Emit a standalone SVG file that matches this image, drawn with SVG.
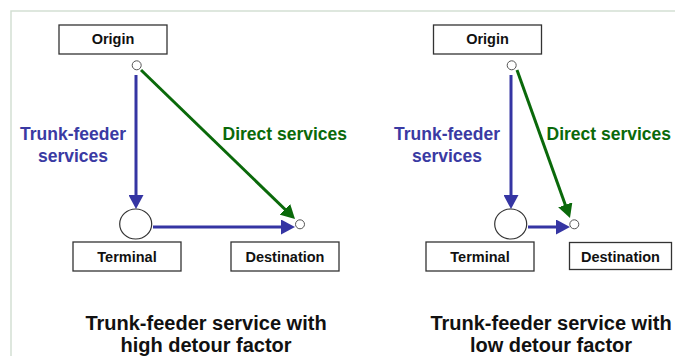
<svg xmlns="http://www.w3.org/2000/svg" width="675" height="356" viewBox="0 0 675 356">
<style>
.box{fill:#fff;stroke:#333;stroke-width:1.3}
.bt{font-family:"Liberation Sans",Arial,sans-serif;font-weight:bold;font-size:14.5px;fill:#111;text-anchor:middle}
.pt{fill:#fff;stroke:#555;stroke-width:1}
.term{fill:#fff;stroke:#333;stroke-width:1.2}
.blue{stroke:#3535a3;stroke-width:3;fill:none}
.green{stroke:#0a690a;stroke-width:3;fill:none}
.lb{font-family:"Liberation Sans",Arial,sans-serif;font-weight:bold;font-size:17.5px;fill:#3a3aa3;text-anchor:middle}
.lg{font-family:"Liberation Sans",Arial,sans-serif;font-weight:bold;font-size:17.5px;fill:#0a690a}
.title{font-family:"Liberation Sans",Arial,sans-serif;font-weight:bold;font-size:20px;fill:#111;text-anchor:middle}
</style>
<defs>
<marker id="ab" markerUnits="userSpaceOnUse" markerWidth="14" markerHeight="15" refX="9" refY="7.5" orient="auto" viewBox="0 0 14 15">
<path d="M0,0 L14,7.5 L0,15 z" fill="#3535a3"/>
</marker>
<marker id="ag" markerUnits="userSpaceOnUse" markerWidth="14" markerHeight="15" refX="9" refY="7.5" orient="auto" viewBox="0 0 14 15">
<path d="M0,0 L14,7.5 L0,15 z" fill="#0a690a"/>
</marker>
</defs>
<rect width="675" height="356" fill="#fff"/>
<path d="M11,356 L11,11 L675,11" fill="none" stroke="#d3e0d3" stroke-width="1.5"/>

<g id="connectors">
<line class="blue" x1="136" y1="75" x2="136" y2="204" marker-end="url(#ab)"/>
<line class="blue" x1="153" y1="227" x2="290" y2="227" marker-end="url(#ab)"/>
<line class="green" x1="141" y1="70" x2="291.4" y2="215.5" marker-end="url(#ag)"/>
<line class="blue" x1="511" y1="75" x2="511" y2="204" marker-end="url(#ab)"/>
<line class="blue" x1="528" y1="227" x2="565" y2="227" marker-end="url(#ab)"/>
<line class="green" x1="517" y1="70" x2="568.3" y2="213.3" marker-end="url(#ag)"/>
</g>

<g id="left-origin">
<rect class="box" x="59" y="25" width="108" height="29"/>
<text class="bt" x="113" y="44">Origin</text>
<circle class="pt" cx="136.7" cy="65.3" r="4.5"/>
</g>
<g id="left-terminal">
<ellipse class="term" cx="135.7" cy="224" rx="16" ry="15"/>
<rect class="box" x="73" y="242" width="108" height="29"/>
<text class="bt" x="127" y="261.5">Terminal</text>
</g>
<g id="left-destination">
<circle class="pt" cx="300" cy="224.3" r="4.5"/>
<rect class="box" x="231" y="242" width="108" height="29"/>
<text class="bt" x="285" y="261.5">Destination</text>
</g>
<g id="left-labels">
<text class="lb" x="73" y="140">Trunk-feeder</text>
<text class="lb" x="73" y="162">services</text>
<text class="lg" x="222.5" y="140">Direct services</text>
<text class="title" x="206" y="330">Trunk-feeder service with</text>
<text class="title" x="206" y="352">high detour factor</text>
</g>

<g id="right-origin">
<rect class="box" x="433.5" y="25" width="108" height="29"/>
<text class="bt" x="487.5" y="44">Origin</text>
<circle class="pt" cx="511.7" cy="65.3" r="4.5"/>
</g>
<g id="right-terminal">
<ellipse class="term" cx="510.7" cy="224" rx="16" ry="15"/>
<rect class="box" x="426" y="242" width="108" height="29"/>
<text class="bt" x="480" y="261.5">Terminal</text>
</g>
<g id="right-destination">
<circle class="pt" cx="574.3" cy="224.3" r="4.5"/>
<rect class="box" x="569.5" y="242.5" width="102" height="27"/>
<text class="bt" x="620.5" y="261.5">Destination</text>
</g>
<g id="right-labels">
<text class="lb" x="447" y="140">Trunk-feeder</text>
<text class="lb" x="447" y="162">services</text>
<text class="lg" x="546.5" y="140">Direct services</text>
<text class="title" x="551" y="330">Trunk-feeder service with</text>
<text class="title" x="551" y="352">low detour factor</text>
</g>
</svg>
